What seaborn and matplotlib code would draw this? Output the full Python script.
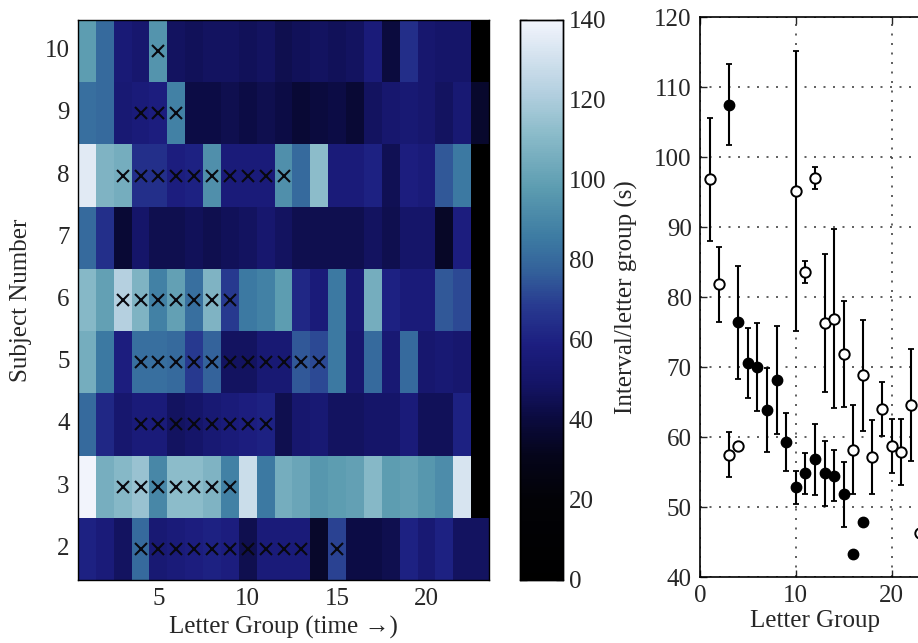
import numpy as np
import pandas as pd
import matplotlib
matplotlib.use("Agg")
import matplotlib.pyplot as plt
from matplotlib.colors import LinearSegmentedColormap
import seaborn as sns

# ---------------- data ----------------
subjects = [10, 9, 8, 7, 6, 5, 4, 3, 2]
letter_groups = list(range(1, 24))

s10 = [98, 80, 55, 52, 95, 48, 46, 48, 48, 46, 48, 44, 46, 48, 46, 48, 56, 40, 64, 52, 50, 50, 0]
s9 = [82, 80, 54, 56, 58, 88, 42, 42, 44, 42, 44, 42, 38, 40, 42, 38, 48, 52, 54, 52, 48, 54, 36]
s8 = [135, 108, 105, 65, 65, 58, 60, 93, 56, 56, 56, 93, 80, 112, 56, 56, 60, 45, 58, 56, 75, 85, 0]
s7 = [80, 65, 38, 50, 44, 44, 46, 44, 46, 48, 52, 48, 44, 44, 44, 44, 48, 44, 50, 50, 34, 58, 0]
s6 = [110, 100, 122, 108, 88, 100, 82, 108, 68, 85, 88, 98, 62, 56, 85, 54, 105, 60, 56, 56, 75, 72, 0]
s5 = [105, 85, 58, 82, 82, 80, 68, 78, 48, 48, 54, 54, 75, 72, 85, 52, 80, 54, 80, 52, 54, 52, 0]
s4 = [80, 62, 52, 56, 56, 48, 50, 54, 56, 58, 60, 44, 52, 54, 48, 48, 50, 50, 56, 46, 46, 60, 0]
s3 = [140, 106, 110, 115, 90, 112, 112, 108, 88, 128, 85, 105, 102, 96, 98, 100, 110, 98, 100, 96, 92, 132, 0]
s2 = [60, 56, 48, 80, 54, 56, 58, 60, 58, 44, 56, 56, 56, 35, 70, 42, 42, 44, 60, 54, 60, 48, 48]

mark_subject = [10,
                9, 9, 9,
                8, 8, 8, 8, 8, 8, 8, 8, 8, 8,
                6, 6, 6, 6, 6, 6, 6,
                5, 5, 5, 5, 5, 5, 5, 5, 5, 5, 5,
                4, 4, 4, 4, 4, 4, 4, 4,
                3, 3, 3, 3, 3, 3, 3,
                2, 2, 2, 2, 2, 2, 2, 2, 2, 2, 2]
mark_group = [5,
              4, 5, 6,
              3, 4, 5, 6, 7, 8, 9, 10, 11, 12,
              3, 4, 5, 6, 7, 8, 9,
              4, 5, 6, 7, 8, 9, 10, 11, 12, 13, 14,
              4, 5, 6, 7, 8, 9, 10, 11,
              3, 4, 5, 6, 7, 8, 9,
              4, 5, 6, 7, 8, 9, 10, 11, 12, 13, 15]

filled_x = [3, 4, 5, 6, 7, 8, 9, 10, 11, 12, 13, 14, 15, 16, 17]
filled_y = [107.5, 76.4, 70.6, 70.0, 63.8, 68.1, 59.3, 52.8, 54.8, 56.8, 54.8, 54.5, 51.8, 43.3, 47.8]
filled_err = [5.8, 8.1, 5.0, 6.3, 6.0, 7.7, 4.2, 2.3, 2.9, 5.1, 4.6, 3.7, 4.7, 0.0, 0.0]

open_x = [1, 2, 3, 4, 10, 11, 12, 13, 14, 15, 16, 17, 18, 19, 20, 21, 22, 23]
open_y = [96.8, 81.8, 57.5, 58.7, 95.1, 83.6, 97.0, 76.3, 76.9, 71.9, 58.2, 68.8, 57.2, 64.0, 58.7, 57.9, 64.6, 46.3]
open_err = [8.8, 5.3, 3.2, 0.4, 20.0, 1.6, 1.6, 9.8, 12.8, 7.6, 6.4, 7.9, 5.3, 3.9, 3.9, 4.7, 8.0, 0.0]

# ---------------- style ----------------
sns.set_style("white")
plt.rcParams["font.family"] = ["Liberation Serif", "DejaVu Serif"]
plt.rcParams["font.size"] = 18

cmap = LinearSegmentedColormap.from_list(
    "ice",
    [(0.00, "#000000"), (0.14, "#020206"), (0.22, "#05051a"),
     (0.29, "#0b0b40"), (0.35, "#141466"), (0.42, "#1c1e80"),
     (0.49, "#283a90"), (0.55, "#33609a"), (0.61, "#3c7aa2"),
     (0.70, "#5c9cb0"), (0.80, "#8cbcca"), (0.88, "#b8d2e2"),
     (1.00, "#f2f4fc")])

W, H = 918, 643
fig = plt.figure(figsize=(W / 100, H / 100), dpi=100)

def fx(px):
    return px / W

def fy(py):
    return 1 - py / H

# ---------------- heatmap ----------------
mat = pd.DataFrame([s10, s9, s8, s7, s6, s5, s4, s3, s2],
                   index=subjects, columns=letter_groups)

ax1 = fig.add_axes([fx(78), fy(580), fx(489) - fx(78), fy(20) - fy(580)])
cax = fig.add_axes([fx(520), fy(580), fx(563) - fx(520), fy(20) - fy(580)])

sns.heatmap(mat, ax=ax1, cbar_ax=cax, cmap=cmap, vmin=0, vmax=140,
            xticklabels=False, yticklabels=True)

col_pos = {g: i + 0.5 for i, g in enumerate(letter_groups)}
row_pos = {s: i + 0.5 for i, s in enumerate(subjects)}
ax1.plot([col_pos[g] for g in mark_group], [row_pos[s] for s in mark_subject],
         linestyle="none", marker="x", markersize=8, mew=1.5, color="#08080f")

ax1.set_xticks([col_pos[g] for g in [5, 10, 15, 20]])
ax1.set_xticklabels(["5", "10", "15", "20"], rotation=0)
ax1.set_yticklabels([str(s) for s in subjects], rotation=0)
ax1.tick_params(axis="both", direction="in", length=4, width=1, color="black",
                left=True, bottom=True, pad=6)
ax1.set_xlabel("Letter Group (time \u2192)", labelpad=4)
ax1.set_ylabel("Subject Number", labelpad=9)
for sp in ax1.spines.values():
    sp.set_visible(True)
    sp.set_color("black")
    sp.set_linewidth(1.0)

cax.set_yticks(range(0, 141, 20))
cax.tick_params(axis="y", direction="in", length=5, width=1, left=True, right=True,
                labelleft=False, labelright=True, pad=4)
for sp in cax.spines.values():
    sp.set_visible(True)
    sp.set_color("black")
    sp.set_linewidth(1.0)

# ---------------- error bar panel ----------------
px_per_unit = 9.58
x_max = 24
ax2 = fig.add_axes([fx(700), fy(577), x_max * px_per_unit / W, fy(17) - fy(577)])

ax2.errorbar(open_x, open_y, yerr=open_err, fmt="none", ecolor="black",
             elinewidth=1.5, capsize=2.5, capthick=1.3, zorder=2)
ax2.errorbar(filled_x, filled_y, yerr=filled_err, fmt="none", ecolor="black",
             elinewidth=1.5, capsize=2.5, capthick=1.3, zorder=2)
sns.scatterplot(x=open_x, y=open_y, ax=ax2, marker="o", s=56,
                facecolor="white", edgecolor="black", linewidth=1.4, zorder=3)
sns.scatterplot(x=filled_x, y=filled_y, ax=ax2, marker="o", s=56,
                color="black", edgecolor="black", linewidth=1.0, zorder=3)

ax2.set_xlim(0, x_max)
ax2.set_ylim(40, 120)
ax2.set_xticks([0, 10, 20])
ax2.set_yticks(range(40, 121, 10))
ax2.grid(True, linestyle=(0, (1.2, 4.5)), linewidth=1.2, color="#444444")
ax2.tick_params(axis="both", direction="in", length=5, width=1, left=True,
                bottom=True, top=True, right=True, pad=6)
ax2.set_xlabel("Letter Group", labelpad=2)
ax2.set_ylabel("Interval/letter group (s)", labelpad=12)
for sp in ax2.spines.values():
    sp.set_visible(True)
    sp.set_color("black")
    sp.set_linewidth(1.2)

fig.savefig("out.png", dpi=100, facecolor="white")
